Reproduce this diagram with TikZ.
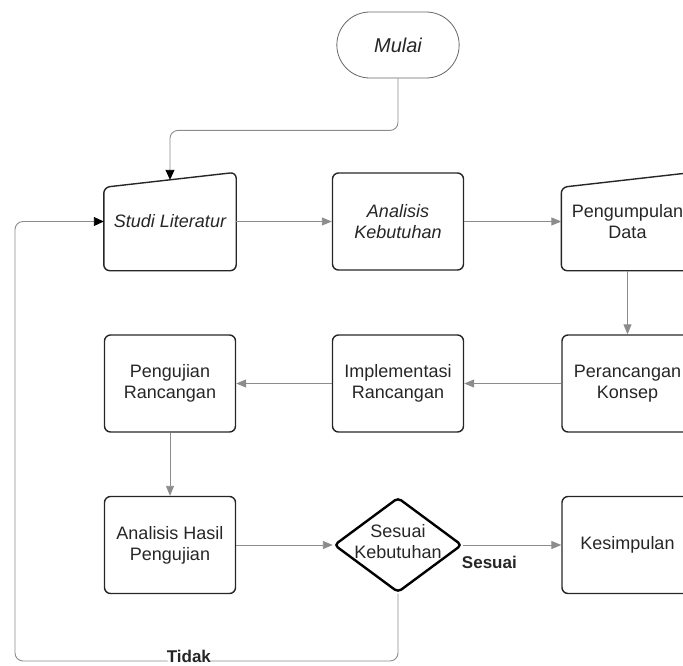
\documentclass[tikz,border=0pt]{standalone}
\usepackage{fontspec}
\setmainfont{Liberation Sans}
\usetikzlibrary{arrows.meta,shapes.misc,shapes.geometric}
\definecolor{linegray}{HTML}{8C8C8C}
\definecolor{txtgray}{HTML}{262626}
\tikzset{box/.style={draw=black!85, line width=1.4pt, rounded corners=6pt,
  minimum width=131pt, minimum height=97pt, align=center, inner sep=2pt,
  font=\fontsize{18}{21}\selectfont, text=txtgray}}
\tikzset{manual/.style={box, draw=none}}
\tikzset{start/.style={rounded rectangle, draw=black!60, line width=0.8pt,
  minimum width=129pt, minimum height=66pt, text=txtgray,
  font=\fontsize{20}{24}\selectfont\itshape}}
\tikzset{decision/.style={diamond, draw=black, line width=2.4pt, rounded corners=4pt,
  minimum width=128pt, minimum height=95pt, inner sep=0pt}}
\tikzset{lbl/.style={font=\fontsize{17}{20}\selectfont\bfseries, text=txtgray}}
\tikzset{flow/.style={draw=linegray, line width=0.9pt,
  -{Triangle[length=10pt,width=8pt]}}}
\tikzset{back/.style={draw=linegray, line width=0.9pt, rounded corners=8pt,
  -{Triangle[length=10pt,width=9pt,color=black]}}}
\newcommand{\manualshape}[1]{%
  \draw[box] ([yshift=-15pt]#1.north west) -- (#1.north east)
    -- (#1.south east) -- (#1.south west) -- cycle;}

\begin{document}
\begin{tikzpicture}[x=1pt,y=-1pt]
\useasboundingbox (0,0) rectangle (683,665);

\node[start] (mulai) at (398,45) {Mulai};

% row 1
\node[manual] (st) at (170,221.5) {\raisebox{-4pt}{\itshape Studi Literatur}};
\manualshape{st}
\node[box] (ak) at (398,221.5) {\itshape Analisis\\\itshape Kebutuhan};
\node[manual] (pd) at (627.5,221.5) {Pengumpulan\\Data};
\manualshape{pd}

% row 2
\node[box] (pr) at (170,383.5) {Pengujian\\Rancangan};
\node[box] (ir) at (398,383.5) {Implementasi\\Rancangan};
\node[box] (pk) at (627.5,383.5) {Perancangan\\Konsep};

% row 3
\node[box] (ah) at (170,545) {Analisis Hasil\\Pengujian};
\node[decision] (ses) at (398,545) {};
\node[box, draw=none, minimum width=0pt, minimum height=0pt] (sestxt) at (398,542) {Sesuai\\Kebutuhan};
\node[box] (kes) at (627.5,545) {Kesimpulan};

\coordinate (stin) at ([yshift=-7.5pt]st.north);
\coordinate (lp) at (15,661);

\draw[back] (mulai.south) -- ++(0,52) -| (stin);

\foreach \a/\b in {st/ak, ak/pd, pd/pk, pk/ir, ir/pr, pr/ah, ah/ses}{
  \draw[flow] (\a) -- (\b);
}
\draw[flow] (ses.east) -- (kes.west)
  node[lbl, pos=0, anchor=north west, xshift=-5pt, yshift=-7pt] (sesuai) {Sesuai};

\draw[back] (ses.south) |- (lp)
  node[lbl, pos=0.773, fill=white, inner sep=1pt, yshift=4.5pt] (tidak) {Tidak}
  |- (st.west);

\end{tikzpicture}
\end{document}
